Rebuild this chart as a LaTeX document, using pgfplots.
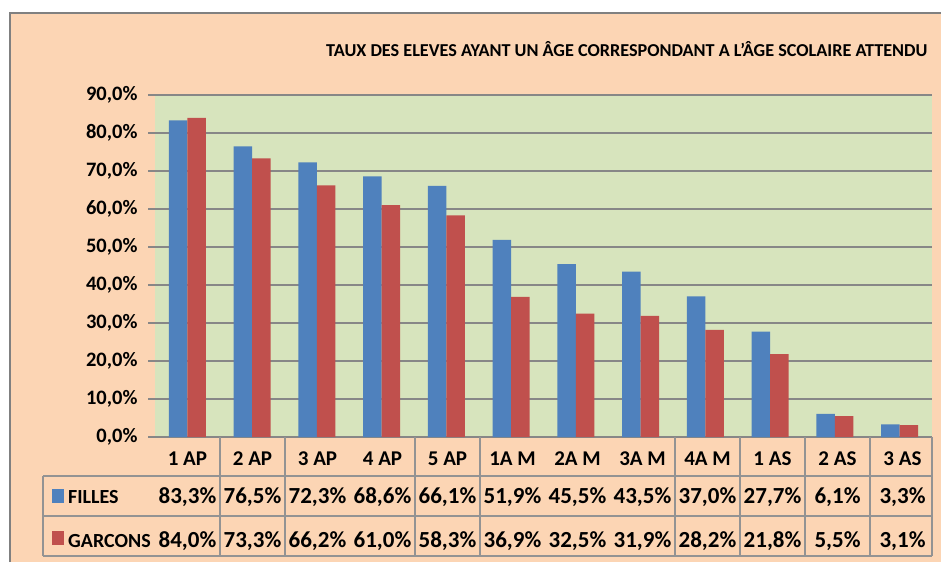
\documentclass[border=0pt]{standalone}
\usepackage{pgfplots}
\pgfplotsset{compat=1.18}
\usepackage{fontspec}
\setmainfont{Carlito}
\definecolor{peach}{HTML}{FCD5B4}
\definecolor{plotgreen}{HTML}{D7E4BD}
\definecolor{fblue}{HTML}{4F81BD}
\definecolor{gred}{HTML}{C0504D}
\definecolor{gridgray}{HTML}{878787}
\definecolor{linegray}{HTML}{939393}
\definecolor{bordergray}{HTML}{808080}
\pgfplotstableread{
x filles garcons
0 83.3 84.0
1 76.5 73.3
2 72.3 66.2
3 68.6 61.0
4 66.1 58.3
5 51.9 36.9
6 45.5 32.5
7 43.5 31.9
8 37.0 28.2
9 27.7 21.8
10 6.1 5.5
11 3.3 3.1
}\datatable
\begin{document}
\begin{tikzpicture}
\useasboundingbox (0pt,0pt) rectangle (941pt,562pt);
\clip (0pt,0pt) rectangle (941pt,562pt);
\fill[white] (0pt,0pt) rectangle (941pt,562pt);
\fill[peach] (10pt,0pt) rectangle (941pt,549pt);
\draw[bordergray, line width=2pt] (10pt,0pt) -- (10pt,549pt) -- (941pt,549pt);
\node[anchor=base west, inner sep=0pt, font=\fontsize{18.2}{22}\selectfont\bfseries] at (326pt,505pt)
  {TAUX DES ELEVES AYANT UN ÂGE CORRESPONDANT A L'ÂGE SCOLAIRE ATTENDU};
\begin{axis}[
  at={(155pt,125pt)}, anchor=south west,
  width=777pt, height=342pt, scale only axis,
  ybar=0pt, bar width=18.5pt,
  xmin=-0.5, xmax=11.5, ymin=0, ymax=90,
  axis background/.style={fill=plotgreen},
  axis line style={draw=none},
  ymajorgrids, major grid style={gridgray, line width=1.1pt},
  ytick={0,10,...,90}, ytick pos=left, tick align=outside, major tick length=7pt,
  ytick style={gridgray, line width=1.1pt},
  xtick=\empty,
  /pgf/number format/assume math mode=true,
  yticklabel={\pgfmathprintnumber[fixed,fixed zerofill,precision=1,use comma]{\tick}\%},
  yticklabel style={font=\fontsize{20.5}{24}\selectfont\bfseries, anchor=east, xshift=-7pt},
  clip=false,
]
\addplot[fill=fblue, draw=none] table[x=x, y=filles] {\datatable};
\addplot[fill=gred, draw=none] table[x=x, y=garcons] {\datatable};
\end{axis}
% data table
\begin{scope}[linegray, line width=1.1pt]
\draw (43pt,86pt) -- (932pt,86pt);
\draw (43pt,46pt) -- (932pt,46pt);
\draw (43pt,6pt) -- (932pt,6pt);
\draw (43pt,86pt) -- (43pt,6pt);
\draw (932pt,125pt) -- (932pt,6pt);
\foreach \k in {1,2,4,5,8,9,10,11} {
  \draw ({155pt+65pt*\k},125pt) -- ({155pt+65pt*\k},6pt);
}
\end{scope}
\fill[fblue] (52pt,59pt) rectangle (64pt,73pt);
\fill[gred] (52pt,17pt) rectangle (64pt,31pt);
\node[anchor=base west, inner sep=0pt, font=\fontsize{20}{24}\selectfont\bfseries] at (68pt,59pt) {FILLES};
\node[anchor=base west, inner sep=0pt, font=\fontsize{20}{24}\selectfont\bfseries] at (68pt,15pt) {GARCONS};
\foreach \i/\c/\f/\g in {0/1 AP/83{,}3/84{,}0, 1/2 AP/76{,}5/73{,}3, 2/3 AP/72{,}3/66{,}2, 3/4 AP/68{,}6/61{,}0,
  4/5 AP/66{,}1/58{,}3, 5/1A M/51{,}9/36{,}9, 6/2A M/45{,}5/32{,}5, 7/3A M/43{,}5/31{,}9, 8/4A M/37{,}0/28{,}2,
  9/1 AS/27{,}7/21{,}8, 10/2 AS/6{,}1/5{,}5, 11/3 AS/3{,}3/3{,}1} {
  \node[anchor=base, inner sep=0pt, font=\fontsize{21}{25}\selectfont\bfseries] at ({187.5pt+65pt*\i},97pt) {\c};
  \node[anchor=base, inner sep=0pt, font=\fontsize{23}{27}\selectfont\bfseries] at ({187.5pt+65pt*\i},59pt) {\f\%};
  \node[anchor=base, inner sep=0pt, font=\fontsize{23}{27}\selectfont\bfseries] at ({187.5pt+65pt*\i},15pt) {\g\%};
}
\end{tikzpicture}
\end{document}
